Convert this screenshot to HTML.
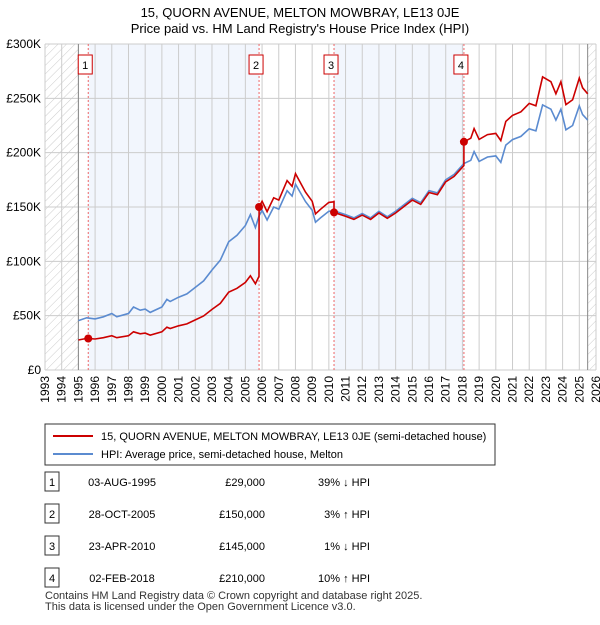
<!DOCTYPE html>
<html><head><meta charset="utf-8"><style>
body{margin:0;background:#fff;font-family:"Liberation Sans",sans-serif;}
svg text{font-family:"Liberation Sans",sans-serif;}
</style></head><body>
<svg width="600" height="620" viewBox="0 0 600 620" xmlns="http://www.w3.org/2000/svg">
<defs><pattern id="h" width="6" height="6" patternUnits="userSpaceOnUse" patternTransform="rotate(45)"><line x1="0" y1="0" x2="0" y2="6" stroke="#ccc" stroke-width="1"/></pattern></defs>
<text x="300" y="17" text-anchor="middle" font-size="13">15, QUORN AVENUE, MELTON MOWBRAY, LE13 0JE</text>
<text x="300" y="33" text-anchor="middle" font-size="13">Price paid vs. HM Land Registry's House Price Index (HPI)</text>
<g id="plot"></g>
<g id="legend">
<rect x="45" y="424" width="450" height="41" fill="#fff" stroke="#333"/>
<line x1="53" y1="436" x2="93" y2="436" stroke="#cc0000" stroke-width="2"/>
<text x="101" y="440" font-size="11">15, QUORN AVENUE, MELTON MOWBRAY, LE13 0JE (semi-detached house)</text>
<line x1="53" y1="454" x2="93" y2="454" stroke="#5b8bd0" stroke-width="2"/>
<text x="101" y="458" font-size="11">HPI: Average price, semi-detached house, Melton</text>
</g>
<g id="table" font-size="11"></g>
<text x="45" y="599" font-size="11" fill="#333">Contains HM Land Registry data © Crown copyright and database right 2025.</text>
<text x="45" y="610" font-size="11" fill="#333">This data is licensed under the Open Government Licence v3.0.</text>
</svg>
<script>
const hpiYears=[1995,1995.5,1996,1996.5,1997,1997.3,1998,1998.3,1998.7,1999,1999.3,2000,2000.3,2000.5,2001,2001.5,2002,2002.5,2003,2003.5,2004,2004.5,2005,2005.3,2005.6,2005.82,2006,2006.3,2006.7,2007,2007.5,2007.8,2008,2008.3,2008.6,2009,2009.2,2009.5,2010,2010.31,2011,2011.5,2012,2012.5,2013,2013.5,2014,2014.5,2015,2015.5,2016,2016.5,2017,2017.5,2018.09,2018.5,2018.7,2019,2019.5,2020,2020.3,2020.6,2021,2021.5,2022,2022.4,2022.8,2023.3,2023.6,2023.9,2024.2,2024.6,2025,2025.2,2025.5];
const hpiValues=[45.5,48,47,49,52,49,52,58,55,56,53,58,65,63,67,70,76,82,92,101,118,124,133,143,131,142,147,138,150,148,165,160,171,163,155,147,136,140,146,146.5,143,140,144,140,146,141,146,152,158,154,165,163,175,180,190,193,201,192,196,197,191,207,212,215,222,220,244,240,230,240,221,225,243,235,230];
const saleDates=[1995.59,2005.82,2010.31,2018.09];
const salePrices=[29,150,145,210];
const saleLabels=["03-AUG-1995","28-OCT-2005","23-APR-2010","02-FEB-2018"];
const salePriceText=["£29,000","£150,000","£145,000","£210,000"];
const saleHpiText=["39% ↓ HPI","3% ↑ HPI","1% ↓ HPI","10% ↑ HPI"];
const yTicks=[0,50,100,150,200,250,300];
const yTickLabels=["£0","£50K","£100K","£150K","£200K","£250K","£300K"];
const ns="http://www.w3.org/2000/svg";
const X0=45,X1=596,Y0=370,Y1=44;
const x=t=>X0+(t-1993)/(2026-1993)*(X1-X0);
const y=v=>Y0-v/300*(Y0-Y1);
function mk(tag,attrs,parent){const e=document.createElementNS(ns,tag);for(const k in attrs)e.setAttribute(k,attrs[k]);parent.appendChild(e);return e;}
function hpiAt(t){for(let i=0;i<hpiYears.length-1;i++){if(t<=hpiYears[i+1]){const f=(t-hpiYears[i])/(hpiYears[i+1]-hpiYears[i]);return hpiValues[i]+f*(hpiValues[i+1]-hpiValues[i]);}}return hpiValues[hpiValues.length-1];}
const P=document.getElementById('plot');
for(let i=0;i<saleDates.length;i+=2){const nx=saleDates[i+1];const r=mk('rect',{x:x(saleDates[i]),y:Y1,width:x(nx)-x(saleDates[i]),height:Y0-Y1,fill:'#eef3fc',opacity:0.75},P);

}
let hl=mk('rect',{x:X0,y:Y1,width:x(1995)-X0,height:Y0-Y1,fill:'url(#h)'},P);


let hr=mk('rect',{x:x(2025.5),y:Y1,width:X1-x(2025.5),height:Y0-Y1,fill:'url(#h)'},P);


for(let yr=1993;yr<=2026;yr++){const g=mk('line',{x1:x(yr),x2:x(yr),y1:Y1,y2:Y0,stroke:'#ccc','stroke-width':1},P);


const t=mk('text',{x:0,y:0,'font-size':12,'text-anchor':'end',transform:`translate(${x(yr)+4},${Y0+6}) rotate(-90)`},P);t.textContent=yr;

}
yTicks.forEach((v,i)=>{const g=mk('line',{x1:X0,x2:X1,y1:y(v),y2:y(v),stroke:'#ccc','stroke-width':1},P);


const t=mk('text',{x:X0-4,y:y(v)+4,'font-size':12,'text-anchor':'end'},P);t.textContent=yTickLabels[i];

});
mk('line',{x1:x(1995),x2:x(1995),y1:Y1,y2:Y0,stroke:'#888'},P);
mk('line',{x1:x(2025.5),x2:x(2025.5),y1:Y1,y2:Y0,stroke:'#888'},P);
saleDates.forEach((d,i)=>{const l=mk('line',{x1:x(d),x2:x(d),y1:Y1,y2:Y0,stroke:'#e66','stroke-width':1,'stroke-dasharray':'2,2'},P);


const b=mk('rect',{x:x(d)-10,y:55,width:14,height:19,fill:'#fff',stroke:'#c00'},P);


const t=mk('text',{x:x(d)-3,y:69,'font-size':11,'text-anchor':'middle'},P);t.textContent=i+1;

});
let hp=hpiYears.map((t,i)=>x(t).toFixed(1)+','+y(hpiValues[i]).toFixed(1)).join(' ');
const hpl=mk('polyline',{points:hp,fill:'none',stroke:'#5b8bd0','stroke-width':1.6},P);


let pts=[];
const seg=t=>{let s=0;for(let i=0;i<saleDates.length;i++)if(t>=saleDates[i])s=i;return s;};
hpiYears.forEach((t,i)=>{const s=seg(t);pts.push([t,hpiValues[i]*salePrices[s]/hpiAt(saleDates[s])]);});
saleDates.forEach((d,s)=>{if(s>0){const h=hpiAt(d);pts.push([d-0.001,h*salePrices[s-1]/hpiAt(saleDates[s-1])]);pts.push([d,salePrices[s]]);}});
pts.sort((a,b)=>a[0]-b[0]);
const pl=mk('polyline',{points:pts.map(p=>x(p[0]).toFixed(1)+','+y(p[1]).toFixed(1)).join(' '),fill:'none',stroke:'#cc0000','stroke-width':1.6},P);


saleDates.forEach((d,i)=>{const c=mk('circle',{cx:x(d),cy:y(salePrices[i]),r:4,fill:'#cc0000'},P);

});
const T=document.getElementById('table');
saleDates.forEach((d,i)=>{const cy=482+i*32;
const b=mk('rect',{x:45,y:cy-10,width:14,height:19,fill:'#fff',stroke:'#333'},T);


const vals=[[52,String(i+1),'middle'],[122,saleLabels[i],'middle'],[265,salePriceText[i],'end'],[370,saleHpiText[i],'end']];
vals.forEach(v=>{const t=mk('text',{x:v[0],y:cy+4,'text-anchor':v[2]},T);t.textContent=v[1];

});});
</script>
</body></html>
